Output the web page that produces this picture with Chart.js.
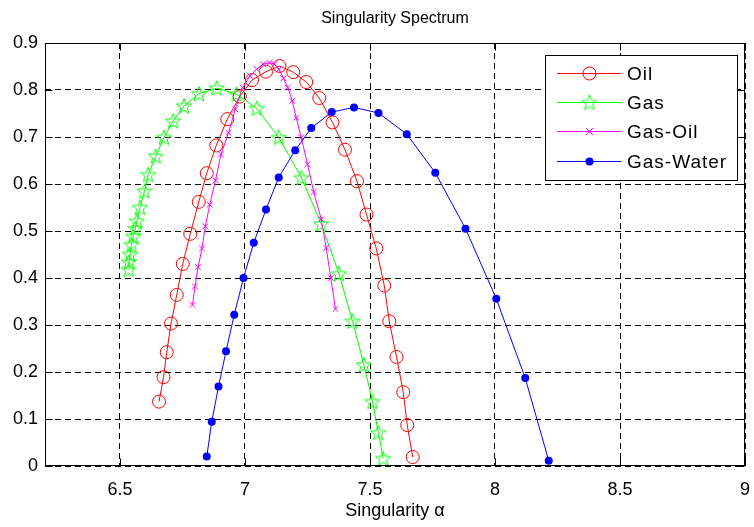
<!DOCTYPE html>
<html><head><meta charset="utf-8">
<script src="https://cdn.jsdelivr.net/npm/chart.js@4.4.1/dist/chart.umd.min.js"></script>
<style>html,body{margin:0;padding:0;background:#fff}#wrap{width:754px;height:527px}</style>
</head><body><div id="wrap"><canvas id="c" width="754" height="527"></canvas></div>
<script>
const titleText = "Singularity Spectrum";
const xTitle = "Singularity α";
const xTicks = [6.5, 7, 7.5, 8, 8.5, 9];
const yTicks = [0, 0.1, 0.2, 0.3, 0.4, 0.5, 0.6, 0.7, 0.8, 0.9];
const seriesNames = ["Oil", "Gas", "Gas-Oil", "Gas-Water"];

const oilX = [6.656,6.674,6.687,6.704,6.727,6.751,6.781,6.815,6.847,6.885,6.929,6.979,7.028,7.084,7.138,7.193,7.245,7.297,7.350,7.400,7.448,7.486,7.525,7.557,7.577,7.606,7.633,7.649,7.671];
const oilY = [0.137,0.189,0.242,0.303,0.364,0.430,0.494,0.562,0.623,0.682,0.738,0.786,0.821,0.839,0.851,0.838,0.817,0.783,0.731,0.673,0.606,0.535,0.463,0.384,0.308,0.232,0.157,0.087,0.019];

const gasX = [6.535,6.536,6.540,6.546,6.553,6.561,6.567,6.580,6.598,6.613,6.643,6.676,6.713,6.756,6.816,6.887,6.966,7.047,7.135,7.226,7.305,7.376,7.430,7.476,7.510,7.533,7.553];
const gasY = [0.418,0.434,0.450,0.471,0.489,0.505,0.521,0.550,0.585,0.620,0.659,0.699,0.734,0.766,0.792,0.804,0.791,0.761,0.699,0.613,0.515,0.409,0.308,0.215,0.137,0.071,0.016];

const gasOilX = [6.790,6.800,6.812,6.828,6.841,6.859,6.882,6.904,6.934,6.961,6.990,7.020,7.047,7.073,7.098,7.118,7.135,7.154,7.171,7.189,7.205,7.225,7.250,7.275,7.305,7.325,7.343,7.362];
const gasOilY = [0.343,0.382,0.423,0.463,0.510,0.556,0.608,0.663,0.709,0.759,0.805,0.830,0.844,0.855,0.858,0.855,0.844,0.825,0.805,0.777,0.741,0.699,0.642,0.583,0.525,0.464,0.400,0.334];

const gasWaterX = [6.847,6.867,6.894,6.924,6.957,6.994,7.035,7.084,7.135,7.201,7.265,7.347,7.436,7.534,7.647,7.761,7.882,8.005,8.121,8.215];
const gasWaterY = [0.020,0.094,0.169,0.244,0.322,0.400,0.475,0.546,0.614,0.672,0.719,0.753,0.763,0.751,0.706,0.624,0.505,0.356,0.187,0.011];

const FONT = '"Liberation Sans", Arial, Helvetica, sans-serif';
const pts = (xs, ys) => xs.map((x, i) => ({x: x, y: ys[i]}));

function starPath(ctx, cx, cy, R, r) {
  ctx.beginPath();
  for (let i = 0; i < 10; i++) {
    const a = -Math.PI / 2 + i * Math.PI / 5;
    const rad = i % 2 === 0 ? R : r;
    const px = cx + rad * Math.cos(a), py = cy + rad * Math.sin(a);
    if (i === 0) ctx.moveTo(px, py); else ctx.lineTo(px, py);
  }
  ctx.closePath();
}
const starImg = document.createElement('canvas');
starImg.width = 18; starImg.height = 18;
(function(){
  const c = starImg.getContext('2d');
  c.strokeStyle = '#00ff00'; c.lineWidth = 1;
  starPath(c, 9, 9.6, 8, 3.4);
  c.stroke();
})();

const colors = ['#ff0000', '#00ff00', '#ff00ff', '#0000ff'];

function drawMarker(ctx, idx, x, y) {
  ctx.save();
  ctx.lineWidth = 1;
  if (idx === 0) {
    ctx.strokeStyle = colors[0];
    ctx.beginPath(); ctx.arc(x, y, 6.5, 0, Math.PI * 2); ctx.stroke();
  } else if (idx === 1) {
    ctx.drawImage(starImg, x - 9, y - 9);
  } else if (idx === 2) {
    ctx.strokeStyle = colors[2];
    ctx.beginPath();
    ctx.moveTo(x - 3.5, y - 3.5); ctx.lineTo(x + 3.5, y + 3.5);
    ctx.moveTo(x + 3.5, y - 3.5); ctx.lineTo(x - 3.5, y + 3.5);
    ctx.stroke();
  } else {
    ctx.fillStyle = colors[3];
    ctx.beginPath(); ctx.arc(x, y, 4, 0, Math.PI * 2); ctx.fill();
  }
  ctx.restore();
}

const decor = {
  id: 'decor',
  afterDraw(chart) {
    const ctx = chart.ctx;
    const a = chart.chartArea;
    const xs = chart.scales.x, ys = chart.scales.y;
    ctx.save();
    ctx.strokeStyle = '#000'; ctx.lineWidth = 1;
    const L = Math.round(a.left) + 0.5, R = Math.round(a.right) - 0.5;
    const T = Math.round(a.top) + 0.5, B = Math.round(a.bottom) - 0.5;
    ctx.strokeRect(L, T, R - L, B - T);
    ctx.beginPath();
    xTicks.forEach(v => {
      const px = Math.round(xs.getPixelForValue(v)) + 0.5;
      ctx.moveTo(px, T); ctx.lineTo(px, T + 7);
      ctx.moveTo(px, B); ctx.lineTo(px, B - 7);
    });
    yTicks.forEach(v => {
      const py = Math.round(ys.getPixelForValue(v)) + 0.5;
      ctx.moveTo(L, py); ctx.lineTo(L + 7, py);
      ctx.moveTo(R, py); ctx.lineTo(R - 7, py);
    });
    ctx.stroke();
    ctx.fillStyle = '#000';
    ctx.textAlign = 'center'; ctx.textBaseline = 'middle';
    ctx.font = '16px ' + FONT;
    ctx.fillText(titleText, (a.left + a.right) / 2, 19);
    ctx.font = '18px ' + FONT;
    ctx.fillText(xTitle, (a.left + a.right) / 2, 511);
    const bx = 545.5, by = 55.5, bw = 192, bh = 125;
    ctx.fillStyle = '#fff';
    ctx.fillRect(bx, by, bw, bh);
    ctx.strokeStyle = '#000';
    ctx.strokeRect(bx, by, bw, bh);
    const rows = [73.5, 102.5, 131.5, 161.5];
    ctx.font = '19px ' + FONT;
    ctx.textAlign = 'left';
    try { ctx.letterSpacing = '1px'; } catch (e) {}
    seriesNames.forEach((n, i) => {
      ctx.strokeStyle = colors[i]; ctx.lineWidth = 1;
      ctx.beginPath(); ctx.moveTo(557, rows[i]); ctx.lineTo(621, rows[i]); ctx.stroke();
      drawMarker(ctx, i, 589.5, rows[i]);
      ctx.fillStyle = '#000';
      ctx.fillText(n, 627, rows[i] + 1);
    });
    ctx.restore();
  }
};

const ds = [
  {label: seriesNames[0], data: pts(oilX, oilY), borderColor: colors[0], borderWidth: 1,
   pointStyle: 'circle', pointRadius: 6.5, pointBorderColor: colors[0], pointBackgroundColor: 'rgba(0,0,0,0)', pointBorderWidth: 1, order: 4},
  {label: seriesNames[1], data: pts(gasX, gasY), borderColor: colors[1], borderWidth: 1,
   pointStyle: starImg, pointRadius: 8, order: 3},
  {label: seriesNames[2], data: pts(gasOilX, gasOilY), borderColor: colors[2], borderWidth: 1,
   pointStyle: 'crossRot', pointRadius: 4, pointBorderColor: colors[2], pointBorderWidth: 1, order: 2},
  {label: seriesNames[3], data: pts(gasWaterX, gasWaterY), borderColor: colors[3], borderWidth: 1,
   pointStyle: 'circle', pointRadius: 4, pointBorderColor: colors[3], pointBackgroundColor: colors[3], pointBorderWidth: 0, order: 1}
].map(d => Object.assign(d, {showLine: true, fill: false, tension: 0, pointHoverRadius: d.pointRadius}));

new Chart(document.getElementById('c'), {
  type: 'scatter',
  data: {datasets: ds},
  options: {
    responsive: false, animation: false, devicePixelRatio: 1,
    layout: {padding: {top: 43, right: 1, left: 0, bottom: 0}},
    plugins: {legend: {display: false}, tooltip: {enabled: false}, title: {display: false}},
    elements: {line: {tension: 0}},
    scales: {
      x: {
        type: 'linear', min: 6.2, max: 9,
        afterBuildTicks: s => { s.ticks = xTicks.map(v => ({value: v})); },
        afterFit: s => { s.height = 61; s.paddingRight = 0; },
        ticks: {color: '#000', font: {size: 18, family: FONT}, padding: 13, maxRotation: 0, autoSkip: false,
                callback: v => String(v)},
        grid: {color: '#000', lineWidth: 1, drawTicks: false},
        border: {display: false, dash: [6, 4]}
      },
      y: {
        type: 'linear', min: 0, max: 0.9,
        afterBuildTicks: s => { s.ticks = yTicks.map(v => ({value: v})); },
        afterFit: s => { s.width = 45; },
        ticks: {color: '#000', font: {size: 18, family: FONT}, padding: 7, autoSkip: false,
                callback: v => String(Math.round(v * 10) / 10)},
        grid: {color: '#000', lineWidth: 1, drawTicks: false},
        border: {display: false, dash: [6, 4]}
      }
    }
  },
  plugins: [decor]
});
</script>
</body></html>
